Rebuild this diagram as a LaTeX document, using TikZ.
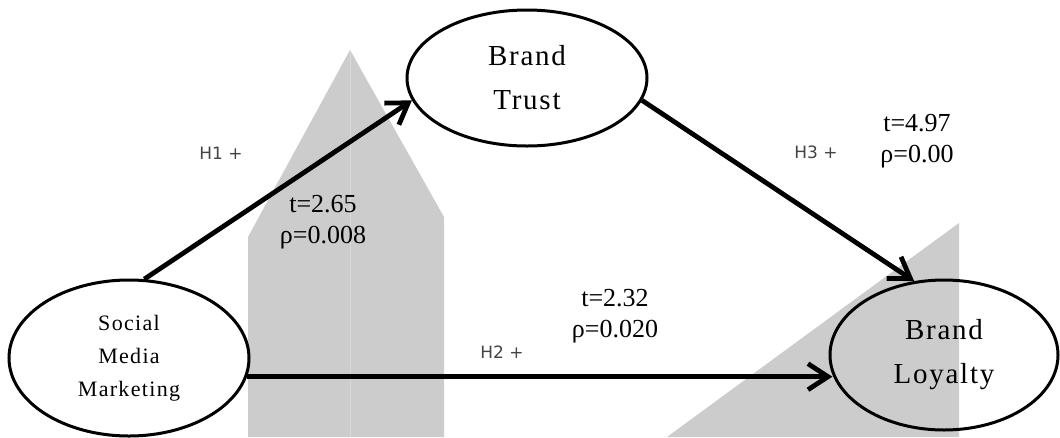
\documentclass[tikz,border=0pt]{standalone}
\usepackage{fontspec}
\setmainfont{Liberation Serif}
\newfontfamily\hypfont{DejaVu Sans}
\newfontfamily\constructfont[LetterSpace=6]{Liberation Serif}
\usetikzlibrary{shapes.geometric,arrows.meta}
\definecolor{bgpanel}{HTML}{CCCCCC}
\definecolor{bgseam}{HTML}{D9D9D9}
\definecolor{hypgray}{HTML}{444444}
\tikzset{
  construct/.style={ellipse, draw=black, line width=3pt, fill=white, inner sep=0pt,
    align=center, text=black},
  bigtext/.style={font=\constructfont\fontsize{29}{44}\selectfont},
  smalltext/.style={font=\constructfont\fontsize{22}{33}\selectfont},
  link/.style={line width=4.8pt, -{Straight Barb[length=20pt,width=26pt]}},
  stat/.style={align=center, font=\fontsize{26}{31}\selectfont, inner sep=0pt},
  hyp/.style={font=\hypfont\fontsize{17}{20}\selectfont, text=hypgray, inner sep=0pt}
}
\begin{document}
\begin{tikzpicture}[x=1pt,y=-1pt]
\useasboundingbox (0,0) rectangle (1060,437);
\fill[white] (0,0) rectangle (1060,437);

% grey background shapes
\fill[bgpanel] (248,437) -- (248,237) -- (350,50) -- (444,217) -- (444,437) -- cycle;
\draw[bgseam, line width=1pt] (350,52) -- (350,437);
\fill[bgpanel] (959,223) -- (959,437) -- (667,437) -- cycle;

% constructs
\node[construct, bigtext, minimum width=240pt, minimum height=136pt] (bt) at (527,78) {Brand\\Trust};
\node[construct, smalltext, minimum width=240pt, minimum height=156pt] (smm) at (129,358) {Social\\Media\\Marketing};
\node[construct, bigtext, minimum width=228pt, minimum height=150pt, fill=none] (bl) at (944,355) {Brand\\Loyalty};

% structural paths
\draw[link] (smm.79) -- (bt.191);
\draw[link] (bt.-11) -- (bl.112);
\draw[link] (smm.-9) -- (smm.-9 -| bl.190);

% hypothesis labels
\node[hyp] (h1) at (221,153) {H1 +};
\node[hyp] (h2) at (502,352) {H2 +};
\node[hyp] (h3) at (816,152) {H3 +};

% path statistics
\node[stat] (s1) at (323,222) {t=2.65\\ρ=0.008};
\node[stat] (s2) at (615,316) {t=2.32\\ρ=0.020};
\node[stat] (s3) at (917,141) {t=4.97\\ρ=0.00};
\end{tikzpicture}
\end{document}
